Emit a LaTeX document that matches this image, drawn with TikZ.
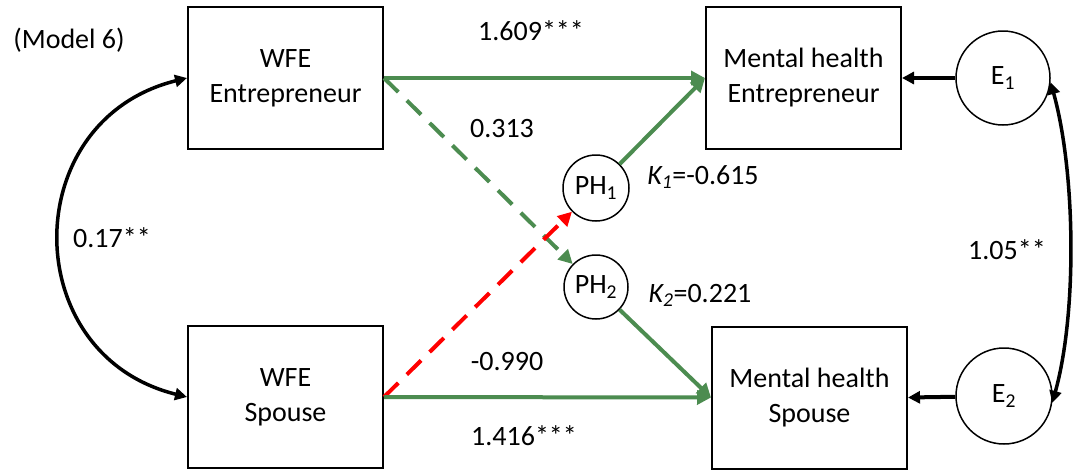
\documentclass[tikz,border=0pt]{standalone}
\usepackage{fontspec}
\setmainfont{Carlito}
\usetikzlibrary{arrows.meta}
\definecolor{pgreen}{RGB}{76,140,80}
\definecolor{pred}{RGB}{255,0,0}
\begin{document}
\begin{tikzpicture}[x=1pt,y=-1pt,
  font=\fontsize{28}{35}\selectfont,
  box/.style={draw, line width=2pt, minimum width=195pt, minimum height=142pt, align=center, inner sep=0pt},
  circ/.style={draw, circle, line width=1.5pt, inner sep=0pt},
  lbl/.style={anchor=base, inner sep=0pt},
  gtip/.style={-{Triangle[length=14pt,width=14pt]}},
  garrow/.style={draw=pgreen, line width=4pt, gtip},
  gdash/.style={draw=pgreen, line width=4pt, dash pattern=on 20pt off 12pt, gtip},
  rdash/.style={draw=pred, line width=4pt, dash pattern=on 20pt off 12pt, -{Triangle[length=14pt,width=14pt]}},
  barrow/.style={draw=black, line width=4pt, -{Triangle[length=12pt,width=12pt]}},
  bcurve/.style={draw=black, line width=3.5pt, {Triangle[length=12pt,width=12pt]}-{Triangle[length=12pt,width=12pt]}},
]
\useasboundingbox (0,0) rectangle (1073,469);
\fill[white] (0,0) rectangle (1073,469);

% boxes
\node[box] (wfee) at (285.5,78) {WFE\\Entrepreneur};
\node[box] (wfes) at (285.5,397) {WFE\\Spouse};
\node[box] (mhe) at (803.5,78) {Mental health\\Entrepreneur};
\node[box] (mhs) at (809.5,397.5) {Mental health\\Spouse};

% circles
\node[circ, minimum size=66pt] (ph1) at (596,188) {PH\textsubscript{1}};
\node[circ, minimum size=64pt] (ph2) at (596,287) {PH\textsubscript{2}};
\node[circ, minimum size=94pt] (e1) at (1003,78) {E\textsubscript{1}};
\node[circ, minimum size=96pt] (e2) at (1004,396) {E\textsubscript{2}};

% paths
\draw[gdash] (wfee.east) -- (ph2);
\draw[rdash] (wfes.east) -- (ph1);
\draw[garrow] (wfee.east) -- (mhe.west);
\draw[garrow] (wfes.east) -- (mhs.west);
\draw[garrow] (ph1) -- (mhe.west);
\draw[garrow] (ph2) -- (mhs.west);
\draw[barrow] (e1) -- (mhe.east);
\draw[barrow] (e2) -- (mhs.east);

% covariances
\draw[bcurve] (wfee.west) .. controls +(-170,42) and +(-170,-42) .. (wfes.west);
\draw[bcurve] (e1.-5) .. controls +(25,90) and +(25,-90) .. (e2.-8);

% labels
\node[lbl] (model) at (69,48) {(Model 6)};
\node[lbl] (l1) at (531,40) {1.609***};
\node[lbl] (l2) at (502,137) {0.313};
\node[lbl] (l3) at (703,184) {{\itshape K\textsubscript{1}}=-0.615};
\node[lbl] (l4) at (112,247) {0.17**};
\node[lbl] (l5) at (1007,259) {1.05**};
\node[lbl] (l6) at (700,302) {{\itshape K\textsubscript{2}}=0.221};
\node[lbl] (l7) at (507,370) {-0.990};
\node[lbl] (l8) at (524,445) {1.416***};
\end{tikzpicture}
\end{document}
